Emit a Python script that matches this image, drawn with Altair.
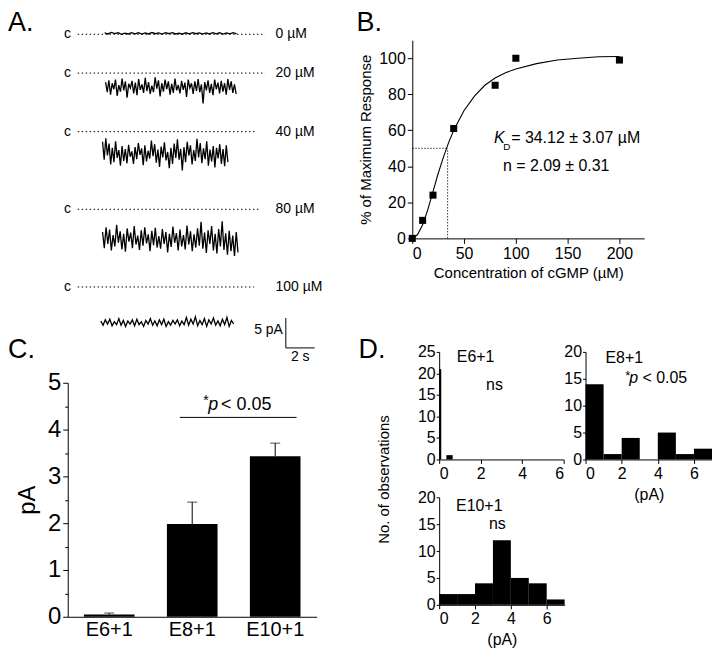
import altair as alt
import pandas as pd

FONT = "Liberation Sans"

# ======================= DATA =======================
# ---- Panel A: single-channel current traces ----
conc_labels = ["0 µM", "20 µM", "40 µM", "80 µM", "100 µM"]
trace_mean_pA = [0.15, -2.3, -3.5, -5.0, -6.0]      # mean current relative to closed level "c"
trace_start_s = [1.86, 1.93, 1.72, 1.72, 1.60]
trace_end_s = [11.0, 10.97, 10.4, 11.1, 10.8]
closed_end_s = [12.97, 12.97, 12.4, 12.55, 12.2]
noise_0uM = [0.1, -0.1, 0.15, -0.05, 0.1, -0.15, 0.05, -0.1, 0.12, -0.08, 0.1, -0.12, 0.06, -0.1,
             0.14, -0.06, 0.08, -0.12, 0.1, -0.05, 0.12, -0.1, 0.05, -0.14, 0.1, -0.08, 0.12, -0.06,
             0.09, -0.11, 0.07, -0.1, 0.13, -0.07, 0.1, -0.12, 0.06, -0.09, 0.11, -0.08]
noise_20uM = [0.8, -0.9, 1.1, -1.3, 0.6, -0.4, 1.2, -1.5, 0.3, -0.8, 1.4, -0.6, 0.9, -1.8, 0.5, -0.2,
              1.0, -1.1, 0.7, -1.4, 1.3, -0.5, 0.4, -1.0, 1.5, -0.7, 0.8, -1.2, 0.2, -0.9, 1.6, -0.3,
              1.1, -1.6, 0.6, -0.8, 1.2, -0.4, 0.9, -1.3, 0.5, -1.0, 1.4, -0.6, 0.3, -1.1, 1.0, -0.5,
              0.7, -1.7, 1.2, -0.2, 0.6, -1.2, 0.9, -0.7, 1.3, -0.9, 0.4, -2.8, 0.8, -0.6, 1.1, -1.0,
              0.5, -1.4, 1.2, -0.4, 0.7, -1.1, 1.0, -0.8, 0.6, -1.3, 1.3, -0.5, 0.9, -1.0, 0.4, -1.2]
noise_40uM = [1.8, -1.2, 2.4, -0.5, 1.5, -2.0, 0.8, -1.6, 1.9, -0.9, 0.4, -2.2, 1.1, -1.4, 0.6, -1.8,
              1.3, -0.7, 0.2, -1.9, 0.9, -1.1, 1.6, -0.4, 0.7, -2.1, 1.2, -1.5, 0.3, -1.0, 2.0, -0.6,
              1.4, -1.7, 0.5, -2.4, 1.0, -0.8, 1.7, -1.3, 0.1, -2.6, 0.8, -1.9, 1.5, -0.9, 2.2, -1.2,
              0.6, -3.0, 0.9, -1.6, 1.8, -0.5, 1.2, -2.0, 0.4, -1.4, 2.3, -0.8, 1.6, -1.8, 0.7, -1.1,
              1.9, -2.2, 0.5, -1.5, 1.1, -2.5, 0.8, -1.0, 1.4, -1.9, 0.6, -2.3, 1.2, -1.6]
noise_80uM = [1.2, -1.5, 2.0, -0.8, 1.6, -1.9, 0.7, -1.2, 2.4, -0.6, 1.3, -1.7, 0.9, -2.1, 1.8, -0.4,
              1.1, -1.5, 2.2, -0.9, 0.6, -1.8, 1.5, -1.1, 2.0, -0.7, 0.8, -2.0, 1.4, -1.0, 1.9, -1.4,
              0.5, -1.6, 1.7, -0.8, 1.2, -2.2, 0.9, -1.3, 2.1, -0.6, 1.0, -1.9, 1.6, -1.2, 0.7, -1.7,
              2.3, -0.9, 1.3, -2.0, 0.8, -1.4, 1.8, -1.1, 2.9, -1.6, 1.1, -2.3, 1.5, -0.8, 2.2, -1.9,
              0.9, -2.4, 1.7, -1.2, 3.0, -1.8, 1.0, -2.6, 1.4, -2.0, 0.6, -2.8, 1.2, -2.2]
noise_100uM = [0.3, -0.4, 0.5, -0.2, 0.6, -0.5, 0.2, -0.3, 0.7, -0.4, 0.4, -0.6, 0.3, -0.2, 0.5, -0.5,
               0.6, -0.3, 0.2, -0.6, 0.4, -0.2, 0.7, -0.4, 0.3, -0.5, 0.5, -0.3, 0.6, -0.6, 0.2, -0.4,
               0.4, -0.2, 0.5, -0.5, 0.3, -0.3, 0.9, -0.4, 0.6, -0.2, 1.0, -0.5, 0.4, -0.3, 0.7, -0.6,
               0.5, -0.2, 0.8, -0.4, 0.3, -0.5, 0.6, -0.3, 0.9, -0.6, 0.4, -0.2]
scale_bar_pA = 5
scale_bar_s = 2

# ---- Panel B: dose-response ----
conc_uM = [0, 10, 20, 40, 80, 100, 200]
pct_max = [0, 10, 24, 61, 85, 100, 99]
fit_conc = [0, 5, 10, 15, 20, 25, 30, 35, 40, 50, 60, 70, 80, 90, 100, 120, 140, 160, 180, 200]
fit_pct = [0, 2, 7.5, 16, 26, 36, 45, 53, 60, 71, 79, 85, 89, 92, 94, 97, 99, 100, 100.8, 101]
kd_uM = 34.12

# ---- Panel C: mean current ----
groups = ["E6+1", "E8+1", "E10+1"]
mean_pA = [0.05, 1.98, 3.43]
upper_pA = [0.08, 2.45, 3.71]
sig_level = 4.26

# ---- Panel D: histograms ----
d1_lo = [0, 0.35]
d1_hi = [0.1, 0.65]
d1_count = [21, 1]
bin_lo = [0, 1, 2, 3, 4, 5, 6]
bin_hi = [1, 2, 3, 4, 5, 6, 7]
d2_count = [14, 1, 4, 0, 5, 1, 2]
d3_count = [2, 2, 4, 12, 5, 4, 1]

# ======================= LAYOUT =======================
W, H = 704, 640
OX, OY = 10, 9


def rx(a, b):
    return [a - OX, b - OX]


def ry(bottom, top):
    return [bottom - OY, top - OY]


def yaxis(left_ref, **kw):
    return alt.Axis(orient="left", offset=-(left_ref - OX), grid=False, **kw)


def xaxis(bottom_ref, **kw):
    return alt.Axis(orient="bottom", offset=(bottom_ref - OY) - H, grid=False, **kw)


row_base = [0, -6.5, -16.3, -29.3, -42.3]   # vertical placement of the 5 rows (pA units)
c_label_t = -0.7
conc_label_t = 13.7
bar_t0, bar_y0 = 14.41, -52.5

# ======================= PANEL A =======================
A_x = alt.Scale(domain=[0, 13.1], range=rx(80, 270), nice=False, zero=False)
A_y = alt.Scale(domain=[-55, 0], range=ry(363, 33), nice=False, zero=False)

noises = [noise_0uM, noise_20uM, noise_40uM, noise_80uM, noise_100uM]
trace_rows = []
for i, noise in enumerate(noises):
    n = len(noise)
    for j, v in enumerate(noise):
        t = trace_start_s[i] + (trace_end_s[i] - trace_start_s[i]) * j / (n - 1)
        trace_rows.append({"row": i, "j": j, "t": t, "pA": row_base[i] + trace_mean_pA[i] + v})
traces_df = pd.DataFrame(trace_rows)

rows_df = pd.DataFrame({
    "row": list(range(5)),
    "t0": [0] * 5,
    "t1": closed_end_s,
    "base": row_base,
    "label": conc_labels,
    "c": ["c"] * 5,
    "ct": [c_label_t] * 5,
    "lt": [conc_label_t] * 5,
})

ax_t = lambda f: alt.X(f, type="quantitative", scale=A_x, axis=None)
ax_y = lambda f: alt.Y(f, type="quantitative", scale=A_y, axis=None)

a_traces = alt.Chart(traces_df).mark_line(color="black", strokeWidth=1.3).encode(
    x=ax_t("t"), y=ax_y("pA"), detail="row:N", order="j:Q")
a_dots = alt.Chart(rows_df).mark_rule(color="black", strokeDash=[1.5, 2.5], strokeWidth=1).encode(
    x=ax_t("t0"), x2="t1", y=ax_y("base"))
a_c = alt.Chart(rows_df).mark_text(font=FONT, fontSize=14, align="center", baseline="middle",
                                   color="black").encode(x=ax_t("ct"), y=ax_y("base"), text="c:N")
a_lab = alt.Chart(rows_df).mark_text(font=FONT, fontSize=14, align="left", baseline="middle",
                                     color="black").encode(x=ax_t("lt"), y=ax_y("base"), text="label:N")
sb_df = pd.DataFrame({"t": [bar_t0], "t2": [bar_t0 + scale_bar_s], "y": [bar_y0],
                      "ytop": [bar_y0 + scale_bar_pA], "ymid": [bar_y0 + 0.6 * scale_bar_pA],
                      "tmid": [bar_t0 + scale_bar_s / 2],
                      "l1": [f"{scale_bar_pA} pA"], "l2": [f"{scale_bar_s} s"]})
a_sbv = alt.Chart(sb_df).mark_rule(color="black", strokeWidth=1).encode(x=ax_t("t"), y=ax_y("y"), y2="ytop")
a_sbh = alt.Chart(sb_df).mark_rule(color="black", strokeWidth=1).encode(x=ax_t("t"), x2="t2", y=ax_y("y"))
a_sbt1 = alt.Chart(sb_df).mark_text(font=FONT, fontSize=14, align="right", baseline="middle", dx=-3,
                                    color="black").encode(x=ax_t("t"), y=ax_y("ymid"), text="l1:N")
a_sbt2 = alt.Chart(sb_df).mark_text(font=FONT, fontSize=14, align="center", baseline="top", dy=2,
                                    color="black").encode(x=ax_t("tmid"), y=ax_y("y"), text="l2:N")
panel_a = alt.layer(a_dots, a_traces, a_c, a_lab, a_sbv, a_sbh, a_sbt1, a_sbt2)

# ======================= PANEL B =======================
B_x = alt.Scale(domain=[0, 224], range=rx(416, 649), nice=False, zero=False)
B_y = alt.Scale(domain=[0, 110], range=ry(238, 39), nice=False, zero=False)
b_xaxis = xaxis(238, values=[0, 50, 100, 150, 200], title="Concentration of cGMP (µM)",
                labelFontSize=16, titleFontSize=15, tickSize=5, labelPadding=2, titlePadding=4)
b_yaxis = yaxis(416, values=[0, 20, 40, 60, 80, 100], title="% of Maximum Response",
                labelFontSize=16, titleFontSize=15, tickSize=5, labelPadding=2, titlePadding=5)

bx = lambda f: alt.X(f, type="quantitative", scale=B_x, axis=b_xaxis)
by = lambda f: alt.Y(f, type="quantitative", scale=B_y, axis=b_yaxis)

pts_df = pd.DataFrame({"conc": conc_uM, "pct": pct_max})
fit_df = pd.DataFrame({"conc": fit_conc, "pct": fit_pct})
kd_df = pd.DataFrame({"x0": [0], "kd": [kd_uM], "half": [50], "y0": [0]})

b_fit = alt.Chart(fit_df).mark_line(color="black", strokeWidth=1.1).encode(x=bx("conc"), y=by("pct"))
b_pts = alt.Chart(pts_df).mark_square(color="black", size=50, opacity=1).encode(x=bx("conc"), y=by("pct"))
b_h = alt.Chart(kd_df).mark_rule(color="black", strokeDash=[1.5, 1.5], strokeWidth=0.8).encode(
    x=bx("x0"), x2="kd", y=by("half"))
b_v = alt.Chart(kd_df).mark_rule(color="black", strokeDash=[1.5, 1.5], strokeWidth=0.8).encode(
    x=bx("kd"), y=by("y0"), y2="half")
btxt = pd.DataFrame({"x": [78.8, 87.8, 95.5, 87.5], "y": [55.5, 50.5, 55.5, 40.3],
                     "s": ["K", "D", "= 34.12 ± 3.07 µM", "n =  2.09 ± 0.31"]})
b_t_k = alt.Chart(btxt.iloc[[0]]).mark_text(font=FONT, fontSize=16, fontStyle="italic", align="left",
                                            baseline="middle", color="black").encode(x=bx("x"), y=by("y"), text="s:N")
b_t_d = alt.Chart(btxt.iloc[[1]]).mark_text(font=FONT, fontSize=10, align="left",
                                            baseline="middle", color="black").encode(x=bx("x"), y=by("y"), text="s:N")
b_t_r = alt.Chart(btxt.iloc[[2, 3]]).mark_text(font=FONT, fontSize=16, align="left",
                                               baseline="middle", color="black").encode(x=bx("x"), y=by("y"), text="s:N")
panel_b = alt.layer(b_fit, b_h, b_v, b_pts, b_t_k, b_t_d, b_t_r)

# ======================= PANEL C =======================
C_x = alt.Scale(type="band", domain=groups, range=rx(70, 320), paddingInner=0.39, paddingOuter=0.195)
C_y = alt.Scale(domain=[0, 5], range=ry(618, 383), nice=False, zero=True)
c_xaxis = xaxis(618, title=None, ticks=False, labelFontSize=20, labelPadding=3, labelAngle=0)
c_yaxis = yaxis(70, values=[0, 1, 2, 3, 4, 5], title="pA", tickSize=5,
                labelFontSize=24, titleFontSize=24, labelPadding=2, titlePadding=8)
c_minor_axis = yaxis(70, values=[0.5, 1.5, 2.5, 3.5, 4.5], title=None, labels=False, domain=False,
                     tickSize=3)

cx = lambda: alt.X("g:N", scale=C_x, axis=c_xaxis, sort=groups)
cy = lambda f: alt.Y(f, type="quantitative", scale=C_y, axis=c_yaxis)

c_df = pd.DataFrame({"g": groups, "m": mean_pA, "u": upper_pA})
c_bars = alt.Chart(c_df).mark_bar(color="black").encode(x=cx(), y=cy("m"))
c_err = alt.Chart(c_df).mark_rule(color="black", strokeWidth=1).encode(x=cx(), y=cy("m"), y2="u")
c_cap = alt.Chart(c_df).mark_tick(color="black", orient="horizontal", size=10, thickness=1).encode(
    x=cx(), y=cy("u"))
sig_df = pd.DataFrame({"g": ["E8+1"], "g2": ["E10+1"], "y": [sig_level], "yt": [sig_level + 0.27],
                       "ya": [sig_level + 0.36]})
c_sig = alt.Chart(sig_df).mark_rule(color="black", strokeWidth=1, xOffset=-12.5, x2Offset=21.5).encode(
    x=cx(), x2="g2:N", y=cy("y"))
c_star = alt.Chart(sig_df).mark_text(font=FONT, fontSize=14, align="left", baseline="middle", dx=11,
                                     text="*", color="black").encode(x=cx(), y=cy("ya"))
c_p = alt.Chart(sig_df).mark_text(font=FONT, fontSize=18, fontStyle="italic", align="left", baseline="middle",
                                  dx=16, text="p", color="black").encode(x=cx(), y=cy("yt"))
c_lt = alt.Chart(sig_df).mark_text(font=FONT, fontSize=18, align="left", baseline="middle",
                                   dx=29, text="< 0.05", color="black").encode(x=cx(), y=cy("yt"))
c_main = alt.layer(c_bars, c_err, c_cap, c_sig, c_star, c_p, c_lt)
c_minor = alt.Chart(c_df).mark_rule(opacity=0).encode(
    y=alt.Y("m:Q", scale=C_y, axis=c_minor_axis))
panel_c = alt.layer(c_main, c_minor).resolve_scale(y="independent")


# ======================= PANEL D =======================
def hist_panel(lo, hi, cnt, xdom, xr, ydom, yr, yvals, xtitle, texts):
    xs = alt.Scale(domain=xdom, range=rx(*xr), nice=False, zero=False)
    ys = alt.Scale(domain=ydom, range=ry(*yr), nice=False, zero=True)
    xa = xaxis(yr[0], values=[0, 2, 4, 6], tickSize=4,
               title=xtitle, labelFontSize=16, titleFontSize=16, labelPadding=2, titlePadding=5)
    ya = yaxis(xr[0], values=yvals, title=None, labelFontSize=16, tickSize=3, labelPadding=1)
    df = pd.DataFrame({"lo": lo, "hi": hi, "n": cnt, "z": [0] * len(cnt)})
    bars = alt.Chart(df).mark_rect(color="black").encode(
        x=alt.X("lo:Q", scale=xs, axis=xa), x2="hi:Q",
        y=alt.Y("z:Q", scale=ys, axis=ya), y2="n:Q")
    layers = [bars]
    for (tx, ty, s, style, size, angle) in texts:
        tdf = pd.DataFrame({"x": [tx], "y": [ty], "s": [s]})
        kw = dict(font=FONT, fontSize=size, align="left", baseline="middle", color="black")
        if style:
            kw["fontStyle"] = style
        if angle:
            kw.update(angle=angle, align="center")
        layers.append(alt.Chart(tdf).mark_text(**kw).encode(
            x=alt.X("x:Q", scale=xs, axis=xa), y=alt.Y("y:Q", scale=ys, axis=ya), text="s:N"))
    return alt.layer(*layers)


panel_d1 = hist_panel(d1_lo, d1_hi, d1_count, [0, 6], (443, 568), [0, 25], (460, 352),
                      [0, 5, 10, 15, 20, 25], None,
                      [(0.85, 23.7, "E6+1", None, 16, 0), (2.26, 17.4, "ns", None, 16, 0)])
panel_d2 = hist_panel(bin_lo, bin_hi, d2_count, [0, 7], (590, 717), [0, 20], (460, 352),
                      [0, 5, 10, 15, 20], "(pA)",
                      [(1.1, 18.9, "E8+1", None, 16, 0), (2.2, 15.6, "*", None, 13, 0),
                       (2.42, 15.2, "p", "italic", 16, 0), (3.15, 15.2, "< 0.05", None, 16, 0)])
panel_d3 = hist_panel(bin_lo, bin_hi, d3_count, [0, 7], (443, 569), [0, 20], (606, 498),
                      [0, 5, 10, 15, 20], "(pA)",
                      [(0.94, 18.3, "E10+1", None, 16, 0), (2.78, 15.0, "ns", None, 16, 0),
                       (-3.06, 23.3, "No. of observations", None, 15, 270)])

# ======================= PANEL LETTERS =======================
letters = []
for s, lx, ly in [("A.", 0, 21), ("B.", 350, 21), ("C.", 0, 349), ("D.", 352, 349)]:
    letters.append(alt.Chart(pd.DataFrame({"s": [s]})).mark_text(
        font=FONT, fontSize=27, align="left", baseline="alphabetic", color="black").encode(
        x=alt.value(lx), y=alt.value(ly), text="s:N"))

chart = alt.layer(panel_a, panel_b, panel_c, panel_d1, panel_d2, panel_d3, *letters).resolve_scale(
    x="independent", y="independent"
).properties(width=W, height=H, padding=0, background="white").configure_view(stroke=None).configure_axis(
    domainColor="black", tickColor="black", labelColor="black", titleColor="black",
    labelFont=FONT, titleFont=FONT, titleFontWeight="normal", domainWidth=1, tickWidth=1
)

chart.save("out.html", embed_options={"renderer": "svg", "actions": False})
